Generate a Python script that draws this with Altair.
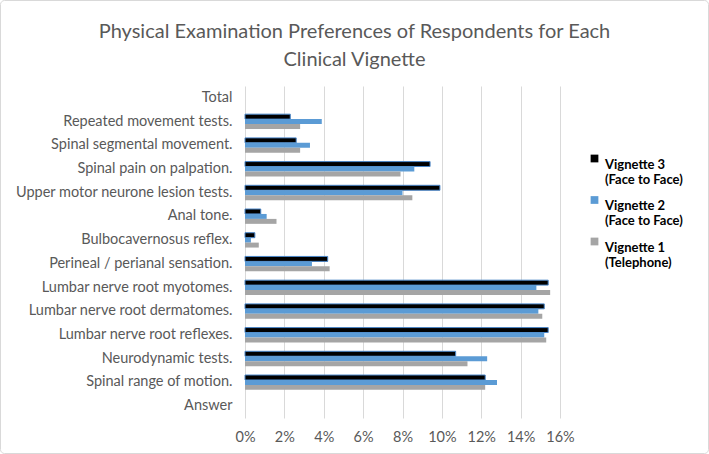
import altair as alt
import pandas as pd

# Examination items, top to bottom as listed on the category axis
categories = [
    "Total",
    "Repeated movement tests.",
    "Spinal segmental movement.",
    "Spinal pain on palpation.",
    "Upper motor neurone lesion tests.",
    "Anal tone.",
    "Bulbocavernosus reflex.",
    "Perineal / perianal sensation.",
    "Lumbar nerve root myotomes.",
    "Lumbar nerve root dermatomes.",
    "Lumbar nerve root reflexes.",
    "Neurodynamic tests.",
    "Spinal range of motion.",
    "Answer",
]
items = categories[1:-1]

series = ["Vignette 3 (Face to Face)", "Vignette 2 (Face to Face)", "Vignette 1 (Telephone)"]

# Share of respondents (%) choosing each examination item
v3 = [2.3, 2.6, 9.4, 9.9, 0.8, 0.5, 4.2, 15.4, 15.2, 15.4, 10.7, 12.2]
v2 = [3.9, 3.3, 8.6, 8.0, 1.1, 0.3, 3.4, 14.8, 14.9, 15.2, 12.3, 12.8]
v1 = [2.8, 2.8, 7.9, 8.5, 1.6, 0.7, 4.3, 15.5, 15.1, 15.3, 11.3, 12.2]

x_ticks = [0, 0.02, 0.04, 0.06, 0.08, 0.10, 0.12, 0.14, 0.16]

rows = []
for name, vals in zip(series, [v3, v2, v1]):
    for item, v in zip(items, vals):
        rows.append({"item": item, "series": name, "share": v / 100})
df = pd.DataFrame(rows)

FONT = "Lato"
TEXT = "#595959"

bars = alt.Chart(df).mark_bar(strokeWidth=1).encode(
    x=alt.X(
        "share:Q",
        scale=alt.Scale(domain=[0, 0.16], nice=False),
        axis=alt.Axis(
            values=x_ticks, format=".0%", title=None, grid=True,
            gridColor="#d9d9d9", domain=False, ticks=False, labelOverlap=False,
            labelFlush=False, labelPadding=12, labelFontSize=14.5, labelColor=TEXT,
        ),
    ),
    y=alt.Y(
        "item:N",
        scale=alt.Scale(domain=categories, paddingInner=0, paddingOuter=0),
        axis=alt.Axis(
            title=None, domain=False, ticks=False, labelPadding=13,
            labelFontSize=14.5, labelColor=TEXT, labelLimit=400,
        ),
    ),
    yOffset=alt.YOffset(
        "series:N", sort=series, scale=alt.Scale(paddingOuter=0.9, paddingInner=0)
    ),
    color=alt.Color(
        "series:N",
        scale=alt.Scale(domain=series, range=["#000000", "#5B9BD5", "#A5A5A5"]),
        legend=alt.Legend(
            title=None, orient="none", legendX=343, legendY=66,
            symbolType="square", symbolSize=60, symbolStrokeWidth=0,
            labelFontSize=13, labelFontWeight="bold", labelColor="#000000",
            labelExpr="[split(datum.label, ' (')[0], '(' + split(datum.label, ' (')[1]]",
            labelBaseline="top", labelOffset=4, rowPadding=6.5, labelLimit=300,
        ),
    ),
    stroke=alt.condition(
        alt.datum.series == series[0], alt.value("#4a86c8"), alt.value(None)
    ),
)

# Light frame around the whole figure
frame = alt.Chart(pd.DataFrame({"f": [0]})).mark_rect(
    fill=None, stroke="#d9d9d9", strokeWidth=1, cornerRadius=4
).encode(
    x=alt.value(-244.5), x2=alt.value(463.5), y=alt.value(-85.5), y2=alt.value(367.5)
)

chart = alt.layer(bars, frame).properties(
    width=315,
    height=332,
    autosize=alt.AutoSizeParams(type="none"),
    padding={"left": 245, "top": 86, "right": 149, "bottom": 36},
    title=alt.TitleParams(
        ["Physical Examination Preferences of Respondents for Each", "Clinical Vignette"],
        fontSize=20, font=FONT, fontWeight="normal", color=TEXT,
        anchor="middle", dx=-48, offset=-70, lineHeight=28,
    ),
).configure(font=FONT, background="white").configure_view(stroke=None)

chart.save("out.html", embed_options={"renderer": "svg", "actions": False})
